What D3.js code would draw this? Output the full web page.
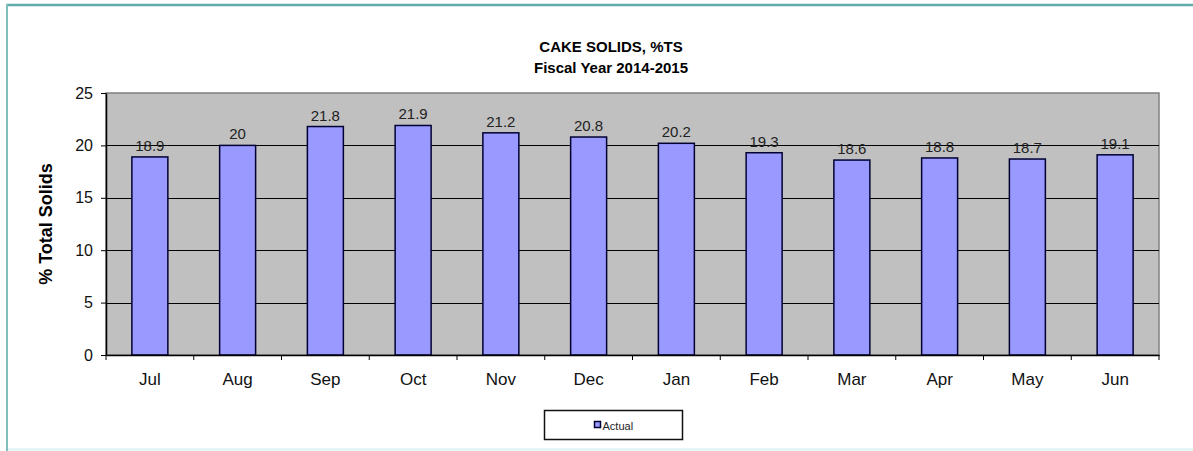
<!DOCTYPE html>
<html>
<head>
<meta charset="utf-8">
<script src="https://cdn.jsdelivr.net/npm/d3@7"></script>
<style>
  body { margin: 0; background: #fff; }
  svg { display: block; font-family: Arial, "Liberation Sans", sans-serif; }
</style>
</head>
<body>
<script>
// chart data
var months = ["Jul", "Aug", "Sep", "Oct", "Nov", "Dec", "Jan", "Feb", "Mar", "Apr", "May", "Jun"];
var actual = [18.9, 20, 21.8, 21.9, 21.2, 20.8, 20.2, 19.3, 18.6, 18.8, 18.7, 19.1];
var yTicks = [0, 5, 10, 15, 20, 25];

var W = 1193, H = 451;
var margin = {top: 93, right: 34, bottom: 96, left: 106};
var width = W - margin.left - margin.right;
var height = H - margin.top - margin.bottom;

var svg = d3.select("body").append("svg")
  .attr("width", W)
  .attr("height", H);

// outer frame (top + left edges visible, faint bottom)
svg.append("line")
  .attr("x1", 6).attr("x2", W).attr("y1", 5).attr("y2", 5)
  .attr("stroke", "#5fadaa").attr("stroke-width", 2.5);
svg.append("line")
  .attr("x1", 7).attr("x2", 7).attr("y1", 4).attr("y2", H)
  .attr("stroke", "#7fbfbc").attr("stroke-width", 2);
svg.append("line")
  .attr("x1", 8).attr("x2", W).attr("y1", 449.5).attr("y2", 449.5)
  .attr("stroke", "#e4f6f6").attr("stroke-width", 3);

// titles
svg.append("text")
  .attr("x", 611).attr("y", 52)
  .attr("text-anchor", "middle")
  .attr("font-size", 15).attr("font-weight", "bold")
  .text("CAKE SOLIDS, %TS");
svg.append("text")
  .attr("x", 611).attr("y", 73)
  .attr("text-anchor", "middle")
  .attr("font-size", 15).attr("font-weight", "bold")
  .text("Fiscal Year 2014-2015");

var g = svg.append("g")
  .attr("transform", "translate(" + margin.left + "," + margin.top + ")");

var x = d3.scaleBand().domain(months).range([0, width]).paddingInner(0.59).paddingOuter(0.295);
var xTick = d3.scaleBand().domain(months).range([0, width]);
var y = d3.scaleLinear().domain([0, 25]).range([height, 0]);

// plot background
g.append("rect")
  .attr("width", width).attr("height", height)
  .attr("fill", "#c0c0c0")
  .attr("stroke", "#808080")
  .attr("stroke-width", 1.5);

// gridlines
g.selectAll("line.grid")
  .data(yTicks.filter(function (d) { return d > 0 && d < 25; }))
  .enter().append("line")
  .attr("class", "grid")
  .attr("x1", 0).attr("x2", width)
  .attr("y1", function (d) { return Math.round(y(d)) + 0.5; })
  .attr("y2", function (d) { return Math.round(y(d)) + 0.5; })
  .attr("stroke", "#000").attr("stroke-width", 1);

// bars
g.selectAll("rect.bar")
  .data(actual)
  .enter().append("rect")
  .attr("class", "bar")
  .attr("x", function (d, i) { return x(months[i]); })
  .attr("y", function (d) { return y(d); })
  .attr("width", x.bandwidth())
  .attr("height", function (d) { return height - y(d); })
  .attr("fill", "#9999ff")
  .attr("stroke", "#000033")
  .attr("stroke-width", 1.5);

// value labels
g.selectAll("text.val")
  .data(actual)
  .enter().append("text")
  .attr("class", "val")
  .attr("x", function (d, i) { return x(months[i]) + x.bandwidth() / 2; })
  .attr("y", function (d) { return y(d) - 6; })
  .attr("text-anchor", "middle")
  .attr("font-size", 15)
  .attr("fill", "#222")
  .text(function (d) { return d; });

// y axis
var yAxis = g.append("g")
  .call(d3.axisLeft(y).tickValues(yTicks).tickSize(5).tickSizeOuter(0).tickPadding(8));
yAxis.select(".domain").attr("stroke", "#000").attr("stroke-width", 1.5);
yAxis.selectAll("text").attr("font-size", 16).attr("fill", "#111")
  .attr("font-family", "Arial, 'Liberation Sans', sans-serif");

// x axis
var xAxis = g.append("g")
  .attr("transform", "translate(0," + height + ")")
  .call(d3.axisBottom(xTick).tickSize(0).tickPadding(18));
xAxis.select(".domain").attr("stroke", "#000").attr("stroke-width", 1.5);
xAxis.selectAll("text").attr("font-size", 17).attr("fill", "#111")
  .attr("font-family", "Arial, 'Liberation Sans', sans-serif");
// category separators below the axis
g.selectAll("line.sep")
  .data(months.concat(["end"]))
  .enter().append("line")
  .attr("class", "sep")
  .attr("x1", function (d, i) { return xTick.step() * i; })
  .attr("x2", function (d, i) { return xTick.step() * i; })
  .attr("y1", height).attr("y2", height + 5)
  .attr("stroke", "#000");

// y axis title
svg.append("text")
  .attr("transform", "translate(52," + (margin.top + height / 2) + ") rotate(-90)")
  .attr("text-anchor", "middle")
  .attr("font-size", 18).attr("font-weight", "bold")
  .text("% Total Solids");

// legend
var lg = svg.append("g").attr("transform", "translate(544.5,410.5)");
lg.append("rect")
  .attr("width", 138).attr("height", 29)
  .attr("fill", "#fff").attr("stroke", "#111").attr("stroke-width", 1.5);
lg.append("rect")
  .attr("x", 50).attr("y", 11).attr("width", 6).attr("height", 6)
  .attr("fill", "#9999ff").attr("stroke", "#000033").attr("stroke-width", 1.5);
lg.append("text")
  .attr("x", 58).attr("y", 19)
  .attr("font-size", 11).attr("fill", "#222")
  .text("Actual");
</script>
</body>
</html>
